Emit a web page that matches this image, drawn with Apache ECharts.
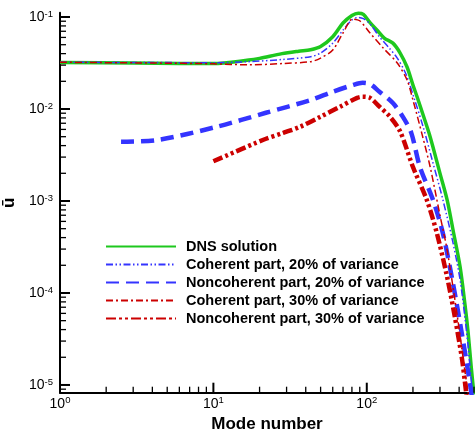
<!DOCTYPE html>
<html>
<head>
<meta charset="utf-8">
<script src="https://cdn.jsdelivr.net/npm/echarts@6/dist/echarts.min.js"></script>
<style>
  html, body { margin: 0; padding: 0; background: #fff; }
  #chart { width: 475px; height: 430px; }
</style>
</head>
<body>
<div id="chart"></div>
<script>
const FONT = 'Liberation Sans, Arial, Helvetica, sans-serif';
const xMin = 1, xMax = 500;
const yMin = 8.24e-6, yMax = 0.1114;

// DNS solution
const dnsModes  = [1, 3, 6, 10, 17, 20, 28, 36, 43, 50, 60, 70, 80, 88, 95, 105, 118, 130, 148, 165, 183, 200, 213, 233, 259, 301, 334, 365, 406, 437, 458, 479, 500];
const dnsValues = [0.032, 0.0317, 0.0313, 0.0312, 0.034, 0.0355, 0.04, 0.0425, 0.044, 0.0478, 0.061, 0.086, 0.104, 0.110, 0.107, 0.087, 0.0705, 0.059, 0.052, 0.0406, 0.0286, 0.0182, 0.0135, 0.0086, 0.00497, 0.00196, 0.00103, 0.000484, 0.000192, 0.000074, 0.0000367, 0.000016, 0.0000078];

// coherent part, 20% of variance
const coh20Modes  = [1, 4, 10, 17, 28, 43, 50, 60, 70, 80, 88, 95, 105, 121, 140, 158, 180, 203, 233, 270, 313, 365, 406, 437, 458, 479, 500];
const coh20Values = [0.0322, 0.032, 0.0318, 0.0327, 0.0345, 0.037, 0.0406, 0.052, 0.072, 0.093, 0.099, 0.096, 0.084, 0.0607, 0.046, 0.0358, 0.024, 0.0133, 0.0064, 0.0026, 0.00104, 0.00035, 0.000138, 0.000053, 0.000026, 0.0000115, 0.0000056];

// noncoherent part, 20% of variance
const non20Modes  = [2.5, 4.3, 10.5, 22, 43, 60, 81, 94, 105, 121, 148, 172, 195, 222, 270, 313, 364, 416, 470, 500];
const non20Values = [0.0044, 0.0046, 0.0064, 0.0091, 0.0125, 0.0154, 0.0182, 0.0193, 0.0187, 0.0154, 0.0116, 0.0082, 0.0055, 0.00234, 0.00103, 0.00045, 0.000129, 0.0000367, 0.0000105, 0.000005];

// coherent part, 30% of variance
const coh30Modes  = [1, 4, 10, 17, 28, 43, 50, 60, 70, 81, 90, 105, 128, 158, 183, 200, 230, 259, 300, 334, 390, 458, 500];
const coh30Values = [0.0322, 0.0316, 0.031, 0.0302, 0.0312, 0.0327, 0.0358, 0.0438, 0.067, 0.095, 0.091, 0.067, 0.046, 0.0316, 0.0207, 0.0125, 0.0052, 0.00234, 0.0007, 0.000293, 0.0000548, 0.0000082, 0.000004];

// noncoherent part, 30% of variance
const non30Modes  = [10, 21, 28.5, 36.7, 49.6, 67, 86.5, 94, 105, 121, 142, 165, 200, 246, 286, 334, 375, 416, 437, 460];
const non30Values = [0.0027, 0.0046, 0.0055, 0.0064, 0.0082, 0.0106, 0.0132, 0.0136, 0.0132, 0.0106, 0.0082, 0.0057, 0.00234, 0.00103, 0.00045, 0.000149, 0.000055, 0.00002, 0.0000105, 0.000005];

const seriesNames = [
  'DNS solution',
  'Coherent part, 20% of variance',
  'Noncoherent part, 20% of variance',
  'Coherent part, 30% of variance',
  'Noncoherent part, 30% of variance'
];

function pairs(modes, values) {
  return modes.map((m, i) => [m, values[i]]);
}

function isDecade(v) {
  const l = Math.log10(v);
  return Math.abs(l - Math.round(l)) < 1e-6;
}

function tickLabel(v) {
  if (!isDecade(v)) return '';
  return '{a|10}{b|' + Math.round(Math.log10(v)) + '}';
}

const labelRich = {
  a: { fontSize: 14, fontFamily: FONT, color: '#000', lineHeight: 16 },
  b: { fontSize: 9.5, fontFamily: FONT, color: '#000', verticalAlign: 'top' }
};

// minor/major tick positions (1..9 x 10^k), drawn by hand since log minor ticks aren't built in
const xTicks = [];
for (let k = 0; k <= 2; k++) for (let m = 1; m <= 9; m++) {
  const v = m * Math.pow(10, k);
  if (v >= xMin && v <= xMax) xTicks.push(v);
}
const yTicks = [];
for (let k = -6; k <= -1; k++) for (let m = 1; m <= 9; m++) {
  const v = m * Math.pow(10, k);
  if (v >= yMin && v <= yMax) yTicks.push(v);
}

function tickSeries(data, vertical) {
  return {
    type: 'custom',
    coordinateSystem: 'cartesian2d',
    silent: true,
    clip: false,
    z: 10,
    data: data,
    renderItem: function (params, api) {
      const p = api.coord([api.value(0), api.value(1)]);
      const major = isDecade(vertical ? api.value(0) : api.value(1));
      const len = major ? 10 : 6;
      return {
        type: 'line',
        shape: vertical
          ? { x1: p[0], y1: p[1], x2: p[0], y2: p[1] - len }
          : { x1: p[0], y1: p[1], x2: p[0] + len, y2: p[1] },
        style: { stroke: '#000', lineWidth: major ? 2 : 1.3 }
      };
    }
  };
}

function lineSeries(name, data, color, width, dash, z) {
  return {
    name: name,
    type: 'line',
    data: data,
    symbol: 'none',
    smooth: 0.3,
    z: z,
    itemStyle: { color: color },
    lineStyle: { color: color, width: width, type: dash }
  };
}

const chart = echarts.init(document.getElementById('chart'));
chart.setOption({
  animation: false,
  backgroundColor: '#fff',
  grid: { left: 60, right: 1, top: 12.7, bottom: 37.3, containLabel: false, outerBoundsMode: 'none' },
  legend: {
    orient: 'vertical',
    left: 105,
    top: 239,
    padding: 0,
    itemWidth: 70,
    itemHeight: 14,
    itemGap: 3,
    selectedMode: false,
    data: seriesNames,
    itemStyle: { opacity: 0 },
    textStyle: { fontFamily: FONT, fontSize: 14.5, fontWeight: 'bold', color: '#000', padding: [0, 0, 0, 5] }
  },
  xAxis: {
    type: 'log',
    logBase: 10,
    min: xMin,
    max: xMax,
    name: 'Mode number',
    nameLocation: 'middle',
    nameGap: 16,
    nameTextStyle: { fontFamily: FONT, fontSize: 17, fontWeight: 'bold', color: '#000' },
    axisLine: { lineStyle: { color: '#000', width: 2 } },
    axisTick: { show: false },
    splitLine: { show: false },
    axisLabel: { formatter: tickLabel, rich: labelRich, margin: 3, showMinLabel: true, showMaxLabel: true }
  },
  yAxis: {
    type: 'log',
    logBase: 10,
    min: yMin,
    max: yMax,
    name: 'ū',
    nameLocation: 'middle',
    nameRotate: 90,
    nameGap: 40,
    nameTextStyle: { fontFamily: FONT, fontSize: 17, fontWeight: 'bold', color: '#000' },
    axisLine: { lineStyle: { color: '#000', width: 2 } },
    axisTick: { show: false },
    splitLine: { show: false },
    axisLabel: { formatter: tickLabel, rich: labelRich, margin: 7, showMinLabel: true, showMaxLabel: true }
  },
  series: [
    lineSeries(seriesNames[0], pairs(dnsModes, dnsValues), '#1ec81e', 3.5, 'solid', 2),
    lineSeries(seriesNames[1], pairs(coh20Modes, coh20Values), '#3434ff', 1.5, [7, 2.5, 1.5, 2.5, 1.5, 2.5], 3),
    lineSeries(seriesNames[2], pairs(non20Modes, non20Values), '#3434ff', 4.5, [13, 7], 3),
    lineSeries(seriesNames[3], pairs(coh30Modes, coh30Values), '#cc0000', 1.5, [7, 3, 2, 3], 4),
    lineSeries(seriesNames[4], pairs(non30Modes, non30Values), '#cc0000', 4.5, [10, 3, 3, 3, 3, 3], 4),
    tickSeries(xTicks.map(v => [v, yMin]), true),
    tickSeries(yTicks.map(v => [xMin, v]), false)
  ]
});
</script>
</body>
</html>
